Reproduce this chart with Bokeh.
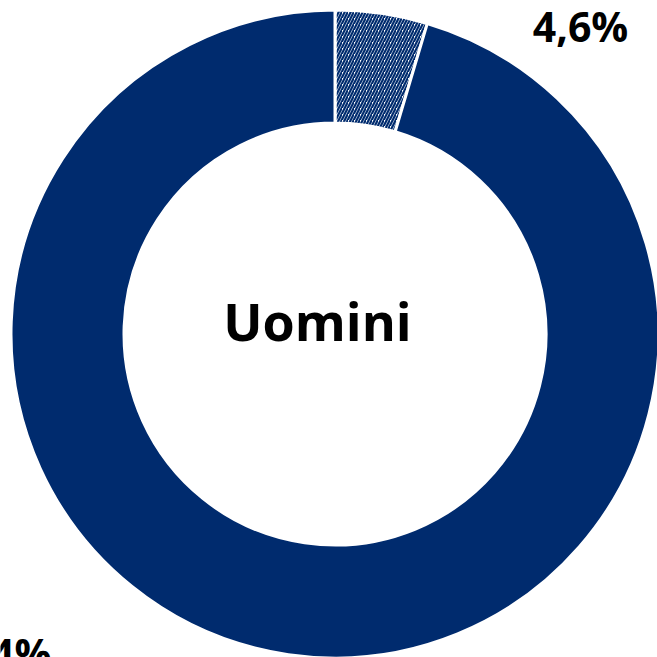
import numpy as np
from bokeh.plotting import figure
from bokeh.core.properties import value
from bokeh.embed import file_html
from bokeh.resources import INLINE

categories = ["Altro", "Uomini"]
shares = [4.6, 95.4]
labels = ["4,6%", "95,4%"]
center_title = "Uomini"

NAVY = "#002B6E"

frac = np.array(shares) / sum(shares)
ends = np.pi / 2 - 2 * np.pi * np.cumsum(frac)
starts = np.concatenate([[np.pi / 2], ends[:-1]])

p = figure(width=657, height=657, x_range=(0, 657), y_range=(0, 657),
           output_backend="svg", toolbar_location=None, min_border=0)
p.axis.visible = False
p.grid.visible = False
p.outline_line_color = None
p.background_fill_color = "white"
p.border_fill_color = "white"

cx, cy = 334.5, 323.5

# hatched slice
p.annular_wedge(x=cx, y=cy, inner_radius=211, outer_radius=324,
                start_angle=[starts[0]], end_angle=[ends[0]], direction="clock",
                fill_color="white", hatch_pattern="right_diagonal_line", hatch_color=NAVY,
                hatch_scale=6, hatch_weight=2.2,
                line_color="white", line_width=3)
# solid slice
p.annular_wedge(x=cx, y=cy, inner_radius=211, outer_radius=324,
                start_angle=[starts[1]], end_angle=[ends[1]], direction="clock",
                fill_color=NAVY, line_color="white", line_width=3)

p.text(x=[580, 51], y=[632, 5], text=labels, text_align=["center", "right"],
       text_baseline="middle", text_font=value("Open Sans"),
       text_font_style="bold", text_font_size="41px", text_color="black")

p.text(x=[317], y=[337], text=[center_title], text_align="center",
       text_baseline="middle", text_font=value("Open Sans"),
       text_font_style="bold", text_font_size="52px", text_color="black")

open("out.html", "w").write(file_html(p, INLINE))
